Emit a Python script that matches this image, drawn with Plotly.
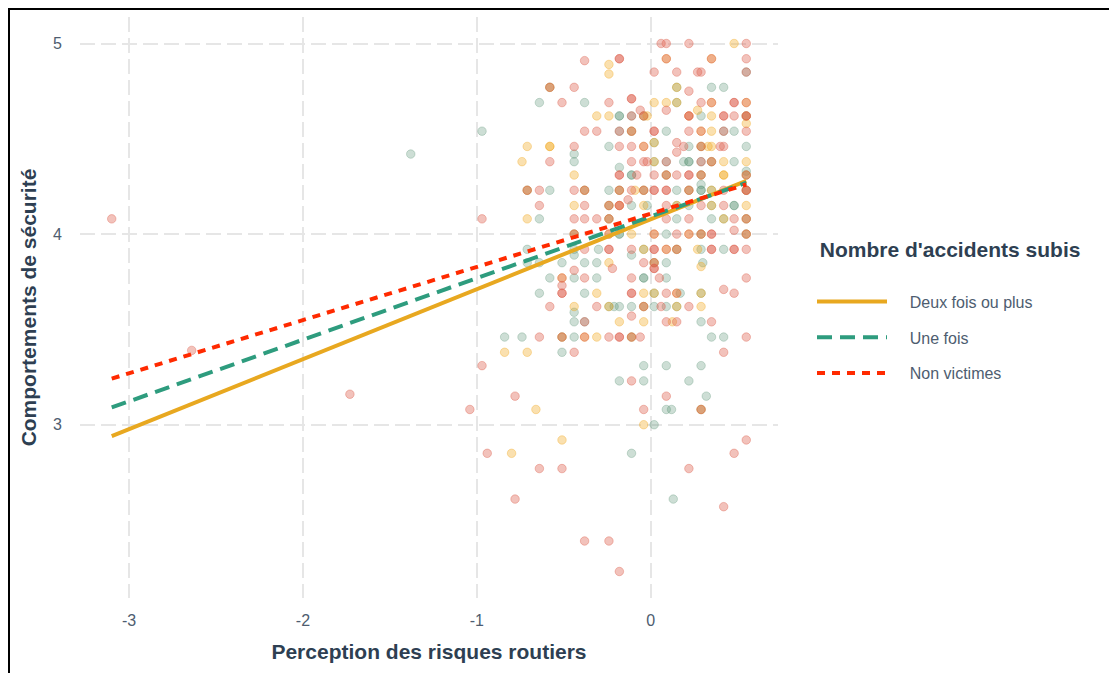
import numpy as np
import plotly.graph_objects as go

# ---------------- data ----------------
groups = ["Deux fois ou plus", "Une fois", "Non victimes"]

deux_pts = [
    (0.48, 5.0), (0.09, 4.92), (0.35, 4.92), (-0.24, 4.89), (-0.24, 4.84),
    (-0.58, 4.77), (0.15, 4.77),
    (0.02, 4.69), (0.09, 4.69), (0.15, 4.69), (0.35, 4.69), (0.55, 4.69), (0.27, 4.65),
    (-0.31, 4.62), (-0.24, 4.62), (-0.04, 4.62), (-0.02, 4.62), (0.22, 4.62), (0.35, 4.62), (0.55, 4.62),
    (0.55, 4.58), (-0.11, 4.54), (0.29, 4.54), (0.35, 4.54), (0.02, 4.48),
    (-0.71, 4.46), (-0.58, 4.46), (-0.58, 4.46), (-0.04, 4.46), (0.29, 4.46), (0.33, 4.46), (0.35, 4.46),
    (-0.74, 4.38), (0.02, 4.38), (0.35, 4.38), (0.42, 4.38), (0.55, 4.38),
    (-0.44, 4.31), (0.09, 4.31), (0.29, 4.31), (0.42, 4.31), (0.42, 4.31), (0.55, 4.31),
    (-0.71, 4.23), (-0.38, 4.23), (-0.18, 4.23), (-0.09, 4.23), (-0.04, 4.23), (0.22, 4.23), (0.35, 4.23), (0.55, 4.23),
    (-0.44, 4.15), (-0.24, 4.15), (-0.18, 4.15), (-0.04, 4.15), (0.15, 4.15), (0.35, 4.15), (0.55, 4.15),
    (-0.71, 4.08), (-0.24, 4.08), (0.42, 4.08), (0.55, 4.08),
    (-0.44, 4.0), (-0.24, 4.0), (-0.11, 4.0), (0.02, 4.0), (0.22, 4.0), (0.29, 4.0), (0.55, 4.0),
    (-0.04, 3.92), (0.09, 3.92), (0.15, 3.92), (0.27, 3.92),
    (-0.24, 3.85), (0.02, 3.85), (0.29, 3.83), (-0.51, 3.77),
    (-0.31, 3.69), (-0.04, 3.69), (0.02, 3.69), (0.15, 3.69), (0.29, 3.69),
    (-0.44, 3.62), (-0.24, 3.62), (-0.04, 3.62), (0.15, 3.62), (0.29, 3.62),
    (-0.18, 3.54), (-0.04, 3.54), (0.125, 3.54),
    (-0.51, 3.46), (-0.38, 3.46), (-0.31, 3.46), (-0.11, 3.46),
    (-0.84, 3.38), (-0.71, 3.38), (-0.66, 3.08), (0.29, 3.08), (-0.04, 3.0),
    (-0.51, 2.92), (-0.80, 2.85),
]

une_pts = [
    (0.55, 4.85), (-0.58, 4.77), (0.15, 4.77), (0.35, 4.77), (0.42, 4.77),
    (-0.64, 4.69), (-0.38, 4.69), (0.15, 4.69),
    (-0.18, 4.62), (-0.18, 4.62), (-0.11, 4.62), (-0.04, 4.62), (0.29, 4.62), (0.55, 4.62),
    (-0.97, 4.54), (-0.18, 4.54), (-0.11, 4.54), (0.09, 4.54), (0.42, 4.54), (0.48, 4.54),
    (0.02, 4.48), (-0.24, 4.46), (0.22, 4.46), (0.29, 4.46), (0.55, 4.46),
    (-1.38, 4.42), (-0.44, 4.42),
    (-0.44, 4.38), (0.02, 4.38), (0.09, 4.38), (0.19, 4.38), (0.22, 4.38), (0.22, 4.38), (0.29, 4.38), (0.35, 4.38), (0.48, 4.38),
    (-0.18, 4.35), (0.55, 4.33),
    (-0.11, 4.31), (-0.11, 4.31), (0.09, 4.31), (0.29, 4.31), (0.55, 4.31), (0.29, 4.26),
    (-0.71, 4.23), (-0.58, 4.23), (-0.38, 4.23), (-0.24, 4.23), (-0.18, 4.23), (-0.04, 4.23), (0.15, 4.23),
    (0.22, 4.23), (0.29, 4.23), (0.29, 4.23), (0.35, 4.23), (0.55, 4.23),
    (-0.24, 4.15), (-0.11, 4.15), (-0.02, 4.15), (0.15, 4.15), (0.22, 4.15), (0.35, 4.15), (0.48, 4.15), (0.48, 4.15),
    (-0.64, 4.08), (-0.24, 4.08), (0.15, 4.08), (0.35, 4.08), (0.42, 4.08), (0.55, 4.08),
    (-0.44, 4.0), (-0.18, 4.0), (-0.18, 4.0), (0.09, 4.0), (0.29, 4.0), (0.55, 4.0),
    (-0.71, 3.92), (-0.44, 3.92), (-0.30, 3.92), (-0.04, 3.92), (0.15, 3.92), (0.29, 3.92), (0.42, 3.92),
    (-0.44, 3.89), (-0.11, 3.89),
    (-0.71, 3.85), (-0.64, 3.85), (-0.51, 3.85), (-0.38, 3.85), (-0.31, 3.85), (0.02, 3.85), (0.09, 3.85), (0.30, 3.85),
    (-0.58, 3.77), (-0.44, 3.77), (-0.31, 3.77), (-0.04, 3.77), (-0.04, 3.77), (0.09, 3.77),
    (-0.64, 3.69), (-0.38, 3.69), (0.02, 3.69), (0.17, 3.69), (0.29, 3.69),
    (-0.24, 3.62), (-0.21, 3.62), (-0.18, 3.62), (-0.11, 3.62), (-0.04, 3.62), (0.02, 3.62), (0.09, 3.62), (0.15, 3.62),
    (-0.44, 3.59), (-0.44, 3.54), (-0.38, 3.54), (0.29, 3.54),
    (-0.84, 3.46), (-0.74, 3.46), (-0.51, 3.46), (-0.44, 3.46), (-0.11, 3.46), (0.35, 3.46), (0.42, 3.46),
    (-0.51, 3.38), (-0.04, 3.31), (0.09, 3.31), (0.29, 3.31),
    (-0.18, 3.23), (-0.04, 3.23), (0.22, 3.23), (0.32, 3.15),
    (0.09, 3.08), (0.12, 3.08), (0.29, 3.08), (0.02, 3.0), (-0.11, 2.85), (0.13, 2.61),
]

non_pts = [
    (0.06, 5.0), (0.09, 5.0), (0.22, 5.0), (0.55, 5.0),
    (-0.18, 4.92), (-0.18, 4.92), (0.09, 4.92), (0.35, 4.92), (0.55, 4.92), (-0.38, 4.91),
    (0.02, 4.85), (0.15, 4.85), (0.27, 4.85), (0.29, 4.85), (0.55, 4.85),
    (-0.58, 4.77), (-0.44, 4.77), (0.22, 4.75), (-0.11, 4.71), (-0.11, 4.71),
    (-0.51, 4.69), (-0.24, 4.69), (0.29, 4.69), (0.35, 4.69), (0.48, 4.69), (0.48, 4.69), (0.55, 4.69),
    (-0.06, 4.65), (0.09, 4.65),
    (-0.11, 4.62), (-0.04, 4.62), (0.22, 4.62), (0.22, 4.62), (0.42, 4.62), (0.42, 4.62), (0.48, 4.62), (0.55, 4.62), (0.55, 4.62),
    (-0.38, 4.54), (-0.31, 4.54), (-0.18, 4.54), (-0.11, 4.54), (0.02, 4.54), (0.02, 4.54), (0.22, 4.54), (0.29, 4.54), (0.42, 4.54), (0.55, 4.54),
    (0.15, 4.48),
    (-0.44, 4.46), (-0.18, 4.46), (-0.11, 4.46), (-0.04, 4.46), (0.19, 4.46), (0.29, 4.46), (0.40, 4.46), (0.42, 4.46),
    (0.15, 4.43),
    (-0.58, 4.38), (-0.11, 4.38), (-0.04, 4.38), (-0.02, 4.38), (0.09, 4.38), (0.29, 4.38), (0.35, 4.38),
    (-0.18, 4.31), (-0.18, 4.31), (-0.08, 4.31), (0.02, 4.31), (0.09, 4.31), (0.15, 4.31), (0.22, 4.31), (0.22, 4.31), (0.29, 4.31), (0.55, 4.31),
    (-0.71, 4.23), (-0.64, 4.23), (-0.44, 4.23), (-0.38, 4.23), (-0.18, 4.23), (-0.11, 4.23), (-0.04, 4.23),
    (0.02, 4.23), (0.02, 4.23), (0.09, 4.23), (0.09, 4.23), (0.22, 4.23), (0.42, 4.23), (0.55, 4.23), (0.55, 4.23),
    (-0.13, 4.18),
    (-0.64, 4.15), (-0.38, 4.15), (-0.24, 4.15), (-0.18, 4.15), (-0.18, 4.15), (0.09, 4.15), (0.29, 4.15), (0.42, 4.15),
    (-3.10, 4.08), (-0.97, 4.08), (-0.44, 4.08), (-0.38, 4.08), (-0.31, 4.08), (-0.24, 4.08), (0.09, 4.08), (0.22, 4.08), (0.48, 4.08), (0.55, 4.08),
    (-0.44, 4.0), (-0.24, 4.0), (0.02, 4.0), (0.15, 4.0), (0.22, 4.0), (0.29, 4.0), (0.35, 4.0), (0.35, 4.0), (0.48, 4.02), (0.55, 4.0),
    (-0.38, 3.92), (-0.24, 3.92), (-0.24, 3.92), (-0.11, 3.92), (0.02, 3.92), (0.02, 3.92), (0.09, 3.92), (0.15, 3.92),
    (0.35, 3.92), (0.35, 3.92), (0.48, 3.92), (0.48, 3.92), (0.55, 3.92),
    (-0.04, 3.85), (0.02, 3.85), (-0.22, 3.82), (0.02, 3.82), (0.02, 3.82), (-0.44, 3.81),
    (-0.51, 3.77), (-0.38, 3.77), (-0.11, 3.77), (0.05, 3.77), (0.55, 3.77), (-0.51, 3.73),
    (-0.51, 3.69), (-0.51, 3.69), (-0.11, 3.69), (-0.11, 3.69), (0.09, 3.69), (0.15, 3.69), (0.48, 3.69), (0.42, 3.71),
    (-0.58, 3.62), (-0.31, 3.62), (-0.04, 3.62), (0.06, 3.62), (0.22, 3.62), (-0.11, 3.57),
    (-0.38, 3.54), (0.09, 3.54), (0.15, 3.54), (0.35, 3.54),
    (-0.64, 3.46), (-0.51, 3.46), (-0.38, 3.46), (-0.24, 3.46), (-0.18, 3.46), (-0.18, 3.46), (-0.11, 3.46), (-0.06, 3.46), (0.55, 3.46),
    (-2.64, 3.39), (-0.44, 3.38), (0.42, 3.38), (-0.97, 3.31), (-0.11, 3.23),
    (-1.73, 3.16), (-0.78, 3.15), (0.09, 3.15), (-1.04, 3.08), (-0.04, 3.08), (0.29, 3.08),
    (0.55, 2.92), (-0.94, 2.85), (0.48, 2.85), (-0.64, 2.77), (-0.51, 2.77), (0.22, 2.77),
    (-0.78, 2.61), (0.42, 2.57), (-0.38, 2.39), (-0.24, 2.39), (-0.18, 2.23),
]

# fitted regression lines (intercept, slope) per group, over the observed x range
intercepts = [4.078, 4.092, 4.107]
slopes = [0.367, 0.323, 0.279]
x_range = [-3.10, 0.55]

x_ticks = [-3, -2, -1, 0]
y_ticks = [3, 4, 5]

# ---------------- styling ----------------
line_colors = ["#E8A820", "#2E9C7E", "#FF2A00"]
line_dash = ["solid", "15px,8px", "8px,7px"]
point_fill = ["rgba(242,165,25,0.35)", "rgba(90,145,115,0.30)", "rgba(222,95,75,0.38)"]

fig = go.Figure()

for pts, fill in zip([une_pts, deux_pts, non_pts], [point_fill[1], point_fill[0], point_fill[2]]):
    fig.add_trace(go.Scatter(
        x=[p[0] for p in pts], y=[p[1] for p in pts], mode="markers",
        marker=dict(size=8.5, color=fill, line=dict(color=fill, width=1)),
        showlegend=False, hoverinfo="skip",
    ))

NB = "\u00a0"
xs = np.array(x_range)
for i, g in enumerate(groups):
    fig.add_trace(go.Scatter(
        x=xs, y=intercepts[i] + slopes[i] * xs, mode="lines", name=NB * 4 + g,
        line=dict(color=line_colors[i], width=4, dash=line_dash[i]),
        legendgroup=g,
    ))

# layout geometry (page pixels of the reference; the page body adds an 8px offset)
OFF = 8
W, H = 1117, 673
L, R, T, B = 80 - OFF, W - (778 - OFF), 17 - OFF, H - (598 - OFF)
pw, ph = W - L - R, H - T - B

def px_x(p):
    return (p - OFF - L) / pw

def px_y(p):
    return (H - B - (p - OFF)) / ph

title_col = "#2E3F52"
tick_col = "#4E5D70"
font_fam = "Liberation Sans, Arial, Helvetica, sans-serif"

fig.update_layout(
    width=W, height=H,
    margin=dict(l=L, r=R, t=T, b=B),
    paper_bgcolor="white", plot_bgcolor="white",
    font=dict(family=font_fam, color=tick_col, size=17),
    xaxis=dict(
        range=[-3.2825, 0.7325], tickvals=x_ticks, ticktext=[str(v) for v in x_ticks],
        showgrid=True, gridcolor="#E6E6E6", gridwidth=1.5, griddash="15px,6px",
        zeroline=False, showline=False,
        ticks="outside", ticklen=8, tickcolor="rgba(0,0,0,0)",
        tickfont=dict(size=16, color=tick_col),
        title=dict(text="<b>Perception des risques routiers</b>", font=dict(size=21, color=title_col), standoff=16),
    ),
    yaxis=dict(
        range=[2.091, 5.139], tickvals=y_ticks, ticktext=[str(v) for v in y_ticks],
        showgrid=True, gridcolor="#E6E6E6", gridwidth=1.5, griddash="15px,6px",
        zeroline=False, showline=False,
        ticks="outside", ticklen=14, tickcolor="rgba(0,0,0,0)",
        tickfont=dict(size=16, color=tick_col),
        title=dict(text="<b>Comportements de sécurité</b>", font=dict(size=21, color=title_col), standoff=10),
    ),
    legend=dict(
        x=px_x(812), y=px_y(230), xanchor="left", yanchor="top",
        title=dict(text="<b>" + NB + "Nombre d'accidents subis</b><br><span style='font-size:12px'>" + NB + "</span>",
                   font=dict(size=21, color=title_col), side="top"),
        font=dict(size=16, color=tick_col),
        itemwidth=70, tracegroupgap=12, traceorder="grouped",
        bgcolor="rgba(0,0,0,0)",
    ),
    shapes=[
        dict(type="line", xref="paper", yref="paper", x0=px_x(8), x1=px_x(W + OFF), y0=px_y(8.5), y1=px_y(8.5),
             line=dict(color="black", width=3)),
        dict(type="line", xref="paper", yref="paper", x0=px_x(8.5), x1=px_x(8.5), y0=px_y(7), y1=px_y(H + OFF),
             line=dict(color="black", width=3)),
    ],
)

fig.write_html("out.html")
